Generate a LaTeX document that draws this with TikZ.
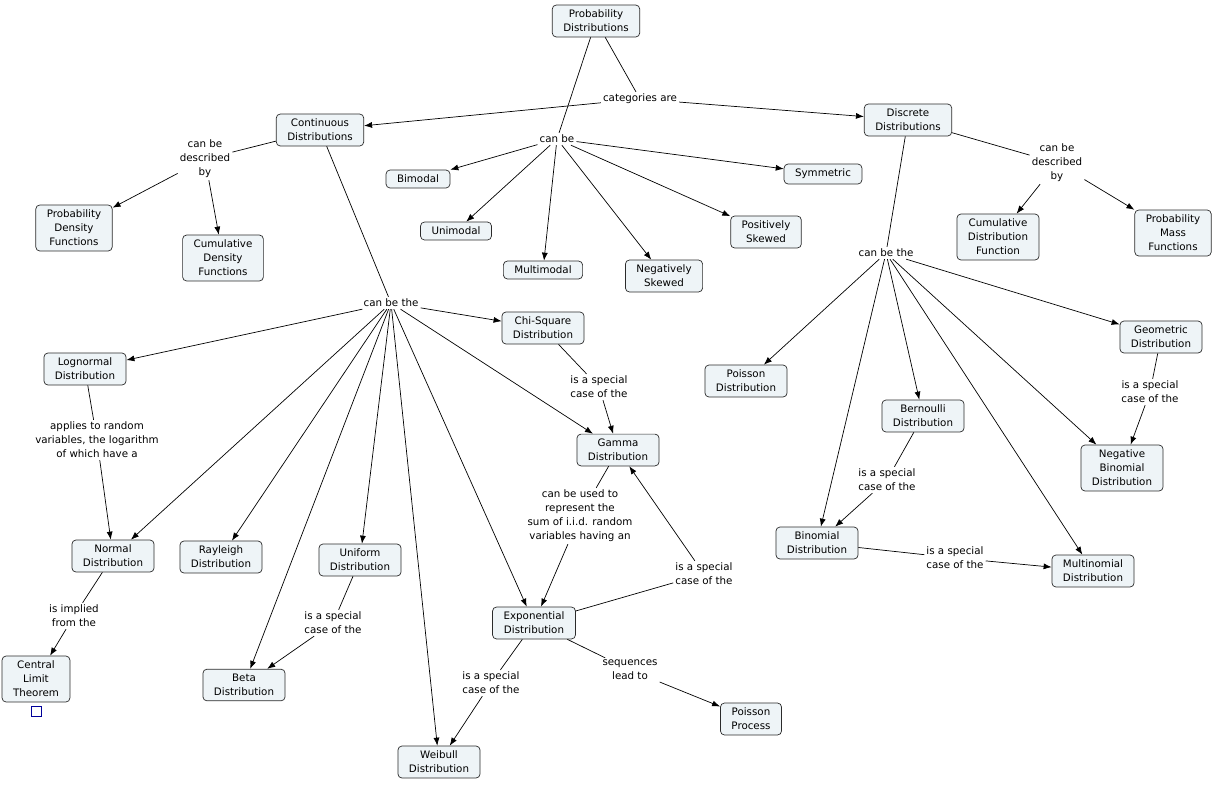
\documentclass[tikz,border=0pt]{standalone}
\usepackage{fontspec}
\setmainfont{DejaVu Sans}
\usetikzlibrary{arrows.meta}
\definecolor{cfill}{HTML}{EEF4F7}
\definecolor{cline}{HTML}{2B2B2B}

\begin{document}
\begin{tikzpicture}[x=1pt,y=-1pt,
   concept/.style={draw=cline,fill=cfill,rounded corners=4pt,align=center,
      inner xsep=11pt,inner ysep=5pt,line width=0.7pt,font=\fontsize{10.3}{14}\selectfont},
   link/.style={align=center,inner sep=2pt,font=\fontsize{10.3}{14}\selectfont},
   arr/.style={-{Latex[length=8pt,width=6pt]}},
   conn/.style={line width=0.7pt}]
\useasboundingbox (0,0) rectangle (1215,785);
% concepts
\node[concept] (prob) at (596,21) {Probability\\Distributions};
\node[concept] (cont) at (320,130) {Continuous\\Distributions};
\node[concept] (disc) at (908,120) {Discrete\\Distributions};
\node[concept] (bimodal) at (418,179) {Bimodal};
\node[concept] (symm) at (823,174) {Symmetric};
\node[concept] (unimodal) at (456,231) {Unimodal};
\node[concept] (multimodal) at (543,270) {Multimodal};
\node[concept] (negskew) at (664,276) {Negatively\\Skewed};
\node[concept] (posskew) at (766,232) {Positively\\Skewed};
\node[concept] (pdf) at (74,228) {Probability\\Density\\Functions};
\node[concept] (cumdens) at (223,258) {Cumulative\\Density\\Functions};
\node[concept] (cdf) at (998,237) {Cumulative\\Distribution\\Function};
\node[concept] (pmf) at (1173,233) {Probability\\Mass\\Functions};
\node[concept] (lognormal) at (85,369) {Lognormal\\Distribution};
\node[concept] (chisq) at (543,328) {Chi-Square\\Distribution};
\node[concept] (gamma) at (618,450) {Gamma\\Distribution};
\node[concept] (normal) at (113,556) {Normal\\Distribution};
\node[concept] (rayleigh) at (221,557) {Rayleigh\\Distribution};
\node[concept] (uniform) at (360,560) {Uniform\\Distribution};
\node[concept] (beta) at (244,685) {Beta\\Distribution};
\node[concept] (expon) at (534,623) {Exponential\\Distribution};
\node[concept] (weibull) at (439,762) {Weibull\\Distribution};
\node[concept] (poisproc) at (751,719) {Poisson\\Process};
\node[concept] (clt) at (36,679) {Central\\Limit\\Theorem};
\node[concept] (poisdist) at (746,381) {Poisson\\Distribution};
\node[concept] (bernoulli) at (923,416) {Bernoulli\\Distribution};
\node[concept] (geometric) at (1161,337) {Geometric\\Distribution};
\node[concept] (negbin) at (1122,468) {Negative\\Binomial\\Distribution};
\node[concept] (binomial) at (817,543) {Binomial\\Distribution};
\node[concept] (multinom) at (1093,571) {Multinomial\\Distribution};
% resource icon
\node[draw=blue!60!black,fill=white,minimum size=10pt,inner sep=0pt,line width=0.6pt] (icon) at (36,711) {};
% linking phrases
\node[link] (catare) at (640,99) {categories are};
\node[link] (canbe) at (557,139) {can be};
\node[link] (descl) at (205,159) {can be\\described\\by};
\node[link] (descr) at (1057,163) {can be\\described\\by};
\node[link] (thel) at (391,303) {can be the};
\node[link] (ther) at (886,253) {can be the};
\node[link] (applies) at (97,440) {applies to random\\variables, the logarithm\\of which have a};
\node[link] (implied) at (74,616) {is implied\\from the};
\node[link] (specunif) at (333,623) {is a special\\case of the};
\node[link] (specchi) at (599,387) {is a special\\case of the};
\node[link] (usedto) at (580,516) {can be used to\\represent the\\sum of i.i.d. random\\variables having an};
\node[link] (specgam) at (704,574) {is a special\\case of the};
\node[link] (specwei) at (491,683) {is a special\\case of the};
\node[link] (seqlead) at (630,670) {sequences\\lead to};
\node[link] (specbern) at (887,480) {is a special\\case of the};
\node[link] (specgeo) at (1150,392) {is a special\\case of the};
\node[link] (specbin) at (955,558) {is a special\\case of the};
% connectors
\begin{scope}[conn]
\draw (prob) -- (catare);
\draw[arr] (catare) -- (cont);
\draw[arr] (catare) -- (disc);
\draw (prob) -- (canbe);
\foreach \t in {bimodal,symm,unimodal,multimodal,negskew,posskew}
  \draw[arr] (canbe) -- (\t);
\draw (cont) -- (descl);
\draw[arr] (descl) -- (pdf);
\draw[arr] (descl) -- (cumdens);
\draw (disc) -- (descr);
\draw[arr] (descr) -- (cdf);
\draw[arr] (descr) -- (pmf);
\draw (cont) -- (thel);
\foreach \t in {lognormal,chisq,gamma,normal,rayleigh,uniform,beta,expon,weibull}
  \draw[arr] (thel) -- (\t);
\draw (disc) -- (ther);
\foreach \t in {poisdist,bernoulli,geometric,negbin,binomial,multinom}
  \draw[arr] (ther) -- (\t);
\draw (lognormal) -- (applies);
\draw[arr] (applies) -- (normal);
\draw (normal) -- (implied);
\draw[arr] (implied) -- (clt);
\draw (uniform) -- (specunif);
\draw[arr] (specunif) -- (beta);
\draw (chisq) -- (specchi);
\draw[arr] (specchi) -- (gamma);
\draw (gamma) -- (usedto);
\draw[arr] (usedto) -- (expon);
\draw (expon) -- (specgam);
\draw[arr] (specgam) -- (gamma);
\draw (expon) -- (specwei);
\draw[arr] (specwei) -- (weibull);
\draw (expon) -- (seqlead);
\draw[arr] (seqlead) -- (poisproc);
\draw (bernoulli) -- (specbern);
\draw[arr] (specbern) -- (binomial);
\draw (geometric) -- (specgeo);
\draw[arr] (specgeo) -- (negbin);
\draw (binomial) -- (specbin);
\draw[arr] (specbin) -- (multinom);
\end{scope}
\end{tikzpicture}
\end{document}
